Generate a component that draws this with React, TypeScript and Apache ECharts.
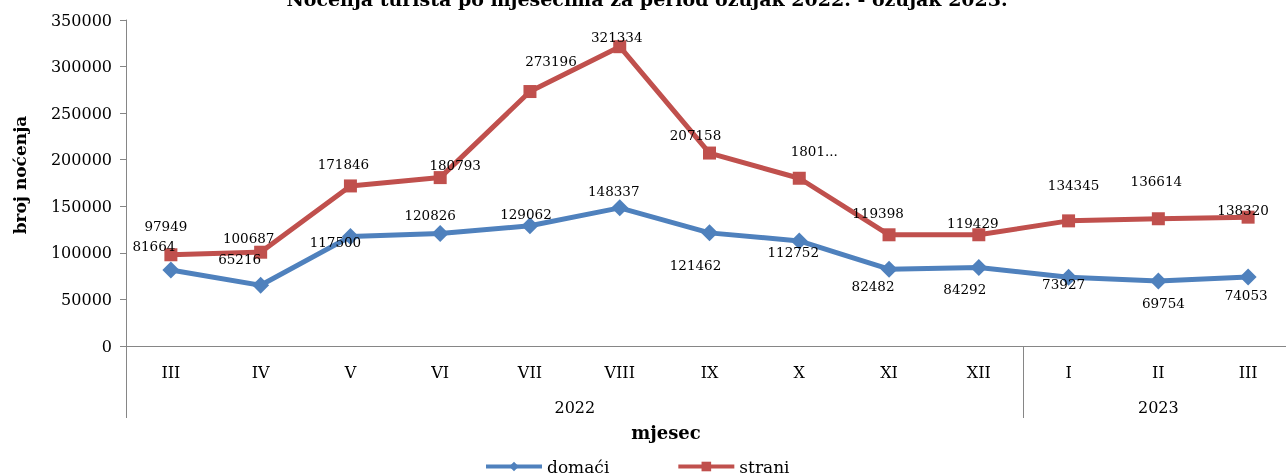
import React, { useEffect, useRef } from 'react';
import * as echarts from 'echarts';

const chartTitle = 'Noćenja turista po mjesecima za period ožujak 2022. - ožujak 2023.';
const xAxisTitle = 'mjesec';
const yAxisTitle = 'broj noćenja';
const months = ['III', 'IV', 'V', 'VI', 'VII', 'VIII', 'IX', 'X', 'XI', 'XII', 'I', 'II', 'III'];
const years = ['2022', '2023'];
const yearSpans = [10, 3];
const seriesNames = ['domaći', 'strani'];
const domaci = [81664, 65216, 117500, 120826, 129062, 148337, 121462, 112752, 82482, 84292, 73927, 69754, 74053];
const strani = [97949, 100687, 171846, 180793, 273196, 321334, 207158, 180100, 119398, 119429, 134345, 136614, 138320];
const straniTruncatedIndex = 7;
const straniTruncatedText = '1801...';
const yTicks = { min: 0, max: 350000, interval: 50000 };

// label offsets (layout only, px from point centre)
const domaciOffsets = [
  [-17, -24], [-21, -26], [-15, 5], [-10, -18], [-4, -12], [-6, -17], [-14, 32],
  [-6, 11], [-16, 17], [-14, 22], [-5, 7], [5, 22], [-2, 18],
];
const straniOffsets = [
  [-5, -29], [-12, -14], [-7, -22], [15, -13], [21, -31], [-3, -10], [-14, -18],
  [15, -27], [-11, -22], [-6, -12], [5, -36], [-2, -38], [-5, -7],
];

const FONT = 'DejaVu Serif';
const BLUE = '#4F81BD';
const RED = '#C0504D';
const AXIS = '#868686';

export default function App() {
  const ref = useRef<HTMLDivElement>(null);
  useEffect(() => {
    if (!ref.current) return;
    const chart = echarts.init(ref.current, null, { renderer: 'svg' });

    const yearStarts: number[] = [];
    const yearCenters: number[] = [];
    let acc = 0;
    yearSpans.forEach((s) => {
      yearStarts.push(acc);
      yearCenters.push(acc + s / 2);
      acc += s;
    });

    const mk = (name: string, data: number[], color: string, symbol: string, size: number, offsets: number[][], fmt?: (p: any) => string) => ({
      name,
      type: 'line',
      data: data.map((v, i) => ({ value: v, label: { offset: offsets[i] } })),
      symbol,
      symbolSize: size,
      lineStyle: { width: 5, color },
      itemStyle: { color },
      label: {
        show: true,
        position: 'inside',
        color: '#000',
        fontFamily: FONT,
        fontSize: 13.5,
        textBorderWidth: 0,
        formatter: fmt || ((p: any) => String(p.value)),
      },
      emphasis: { disabled: true },
    });

    chart.setOption({
      animation: false,
      textStyle: { fontFamily: FONT },
      grid: { left: 126, top: 20, width: 1167, height: 326, containLabel: false, outerBoundsMode: 'none' },
      legend: {
        data: seriesNames,
        left: 484,
        top: 458,
        padding: 0,
        itemWidth: 56,
        itemHeight: 12,
        itemGap: 67,
        lineStyle: { width: 4 },
        textStyle: { fontFamily: FONT, fontSize: 17, color: '#000' },
      },
      xAxis: [
        {
          type: 'category',
          data: months,
          boundaryGap: true,
          axisLine: { lineStyle: { color: AXIS, width: 1 } },
          axisTick: {
            show: true,
            interval: (i: number) => yearStarts.includes(i),
            length: 72,
            lineStyle: { color: AXIS, width: 1 },
          },
          axisLabel: { interval: 0, margin: 18, color: '#000', fontSize: 16, fontFamily: FONT },
          splitLine: { show: false },
        },
        {
          type: 'value',
          min: 0,
          max: months.length,
          interval: 0.5,
          position: 'bottom',
          axisLine: { show: false },
          axisTick: { show: false },
          splitLine: { show: false },
          axisLabel: {
            margin: 53,
            color: '#000',
            fontSize: 16,
            fontFamily: FONT,
            formatter: (v: number) => {
              const k = yearCenters.findIndex((c) => Math.abs(c - v) < 1e-6);
              return k >= 0 ? years[k] : '';
            },
          },
        },
      ],
      yAxis: {
        type: 'value',
        min: yTicks.min,
        max: yTicks.max,
        interval: yTicks.interval,
        axisLine: { show: true, lineStyle: { color: AXIS, width: 1 } },
        axisTick: { show: true, length: 6, lineStyle: { color: AXIS } },
        axisLabel: { margin: 14, color: '#000', fontSize: 16, fontFamily: FONT, formatter: (v: number) => String(v) },
        splitLine: { show: false },
      },
      graphic: [
        {
          type: 'text',
          x: 647,
          y: -1.5,
          style: {
            text: chartTitle,
            fill: '#000',
            font: `bold 19px "${FONT}"`,
            align: 'center',
            verticalAlign: 'middle',
          },
        },
        {
          type: 'text',
          x: 666,
          y: 432,
          style: {
            text: xAxisTitle,
            fill: '#000',
            font: `bold 18px "${FONT}"`,
            align: 'center',
            verticalAlign: 'middle',
          },
        },
        {
          type: 'text',
          x: 19.5,
          y: 175,
          rotation: Math.PI / 2,
          style: {
            text: yAxisTitle,
            fill: '#000',
            font: `bold 17px "${FONT}"`,
            align: 'center',
            verticalAlign: 'middle',
          },
        },
      ],
      series: [
        mk(seriesNames[0], domaci, BLUE, 'diamond', 17, domaciOffsets),
        mk(seriesNames[1], strani, RED, 'rect', 13, straniOffsets, (p: any) =>
          p.dataIndex === straniTruncatedIndex ? straniTruncatedText : String(p.value)),
      ],
    });
    return () => chart.dispose();
  }, []);
  return <div ref={ref} style={{ position: 'fixed', left: 0, top: 0, width: 1286, height: 475 }} />;
}
